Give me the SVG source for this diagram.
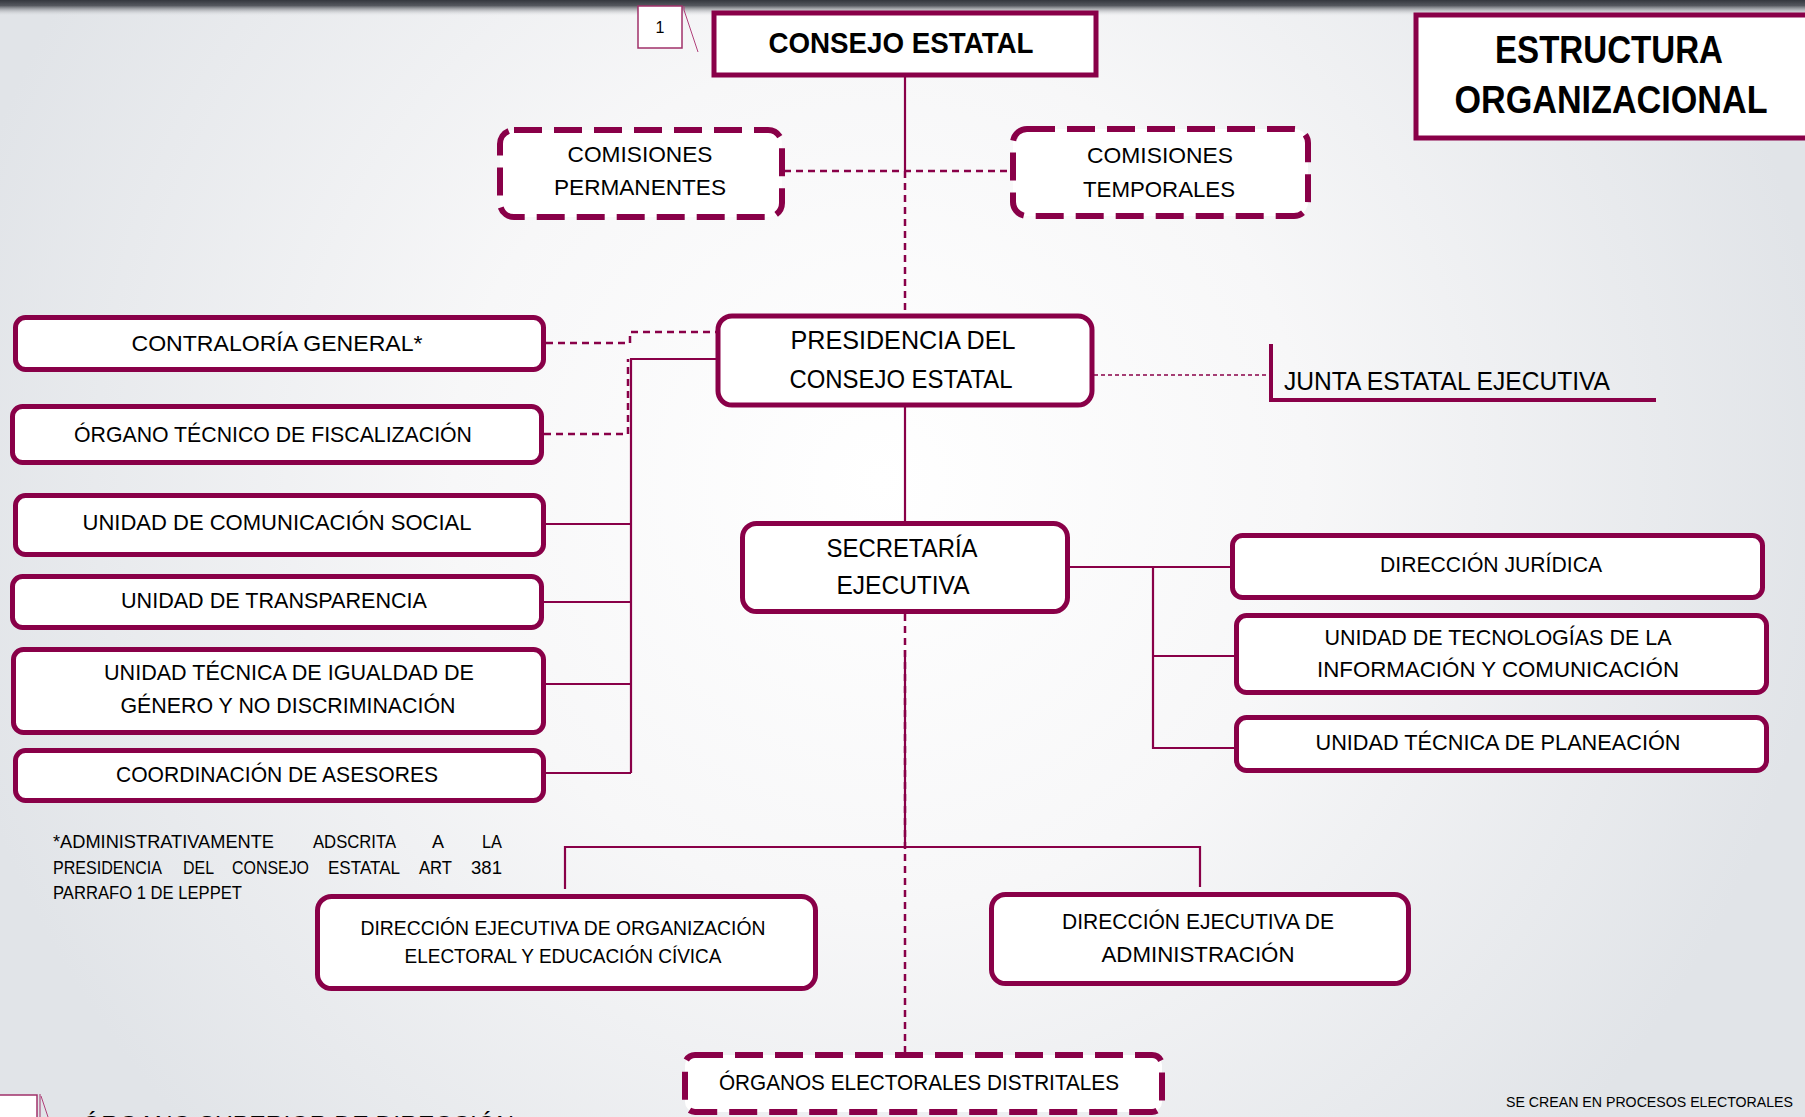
<svg xmlns="http://www.w3.org/2000/svg" width="1805" height="1117" viewBox="0 0 1805 1117">
<defs>
<radialGradient id="bg" gradientUnits="userSpaceOnUse" cx="880" cy="480" r="950">
<stop offset="0" stop-color="#ffffff"/>
<stop offset="0.45" stop-color="#f7f7f8"/>
<stop offset="1" stop-color="#e1e4e8"/>
</radialGradient>
<linearGradient id="topbar" x1="0" y1="0" x2="0" y2="1">
<stop offset="0" stop-color="#34373e"/>
<stop offset="0.35" stop-color="#55585f"/>
<stop offset="1" stop-color="#e4e6e9" stop-opacity="0"/>
</linearGradient>
<style>
.box{fill:#ffffff;stroke:#890048;stroke-width:5}
.dbox{fill:#ffffff;stroke:#890048;stroke-width:6;stroke-dasharray:28 12}
.ln{fill:none;stroke:#890048;stroke-width:2.2}
.dl{fill:none;stroke:#890048;stroke-width:2.5;stroke-dasharray:7 5}
.thin{fill:none;stroke:#890048;stroke-width:1.3;stroke-dasharray:4 3}
.t{font-family:"Liberation Sans",Arial,sans-serif;fill:#000000;text-anchor:middle}
.tl{font-family:"Liberation Sans",Arial,sans-serif;fill:#000000}
.b{font-weight:bold}
</style>
</defs>
<rect x="0" y="0" width="1805" height="1117" fill="url(#bg)"/>
<rect x="0" y="0" width="1805" height="16" fill="url(#topbar)"/>

<g id="connectors">
<line class="ln" x1="905" y1="77" x2="905" y2="171"/>
<line class="dl" x1="905" y1="171" x2="905" y2="313"/>
<line class="dl" x1="784" y1="171" x2="1010" y2="171"/>
<polyline class="dl" points="546,343 630,343 630,332 716,332"/>
<polyline class="dl" points="544,434 628,434 628,359"/>
<polyline class="ln" points="716,359 631,359 631,773"/>
<line class="ln" x1="546" y1="524" x2="631" y2="524"/>
<line class="ln" x1="544" y1="602" x2="631" y2="602"/>
<line class="ln" x1="546" y1="684" x2="631" y2="684" stroke-width="3"/>
<line class="ln" x1="546" y1="773" x2="631" y2="773"/>
<line class="ln" x1="905" y1="407" x2="905" y2="521"/>
<line class="thin" x1="1094" y1="375" x2="1271" y2="375"/>
<line class="ln" x1="1070" y1="567" x2="1232" y2="567" stroke-width="3"/>
<polyline class="ln" points="1153,567 1153,748 1236,748"/>
<line class="ln" x1="1153" y1="656" x2="1236" y2="656"/>
<line class="dl" x1="905" y1="614" x2="905" y2="1053"/>
<line class="ln" x1="905" y1="650" x2="905" y2="847"/>
<polyline class="ln" points="565,889 565,847 1200,847 1200,887"/>
</g>

<g id="nota1">
<rect x="638" y="6" width="44" height="42" fill="#ffffff" stroke="#a0306a" stroke-width="1.5"/>
<text class="t" x="660" y="33" font-size="16">1</text>
<polyline points="684,6 684,10 698,52" fill="none" stroke="#b0407a" stroke-width="1"/>
</g>

<g id="consejo">
<rect class="box" x="714" y="13" width="382" height="62" stroke-width="6"/>
<text class="t b" x="901" y="53" font-size="30" textLength="265" lengthAdjust="spacingAndGlyphs">CONSEJO ESTATAL</text>
</g>

<g id="titulo">
<rect class="box" x="1416" y="15" width="400" height="123"/>
<text class="t b" x="1609" y="63" font-size="38" textLength="228" lengthAdjust="spacingAndGlyphs">ESTRUCTURA</text>
<text class="t b" x="1611" y="113" font-size="38" textLength="313" lengthAdjust="spacingAndGlyphs">ORGANIZACIONAL</text>
</g>

<g id="comisiones-permanentes">
<rect class="dbox" x="500" y="130" width="282" height="87" rx="14"/>
<text class="t" x="640" y="162" font-size="22" textLength="145" lengthAdjust="spacingAndGlyphs">COMISIONES</text>
<text class="t" x="640" y="195" font-size="22" textLength="172" lengthAdjust="spacingAndGlyphs">PERMANENTES</text>
</g>

<g id="comisiones-temporales">
<rect class="dbox" x="1013" y="129" width="295" height="87" rx="14"/>
<text class="t" x="1160" y="163" font-size="22" textLength="146" lengthAdjust="spacingAndGlyphs">COMISIONES</text>
<text class="t" x="1159" y="197" font-size="22" textLength="152" lengthAdjust="spacingAndGlyphs">TEMPORALES</text>
</g>

<g id="presidencia">
<rect class="box" x="718" y="316" width="374" height="89" rx="14"/>
<text class="t" x="903" y="349" font-size="26" textLength="225" lengthAdjust="spacingAndGlyphs">PRESIDENCIA DEL</text>
<text class="t" x="901" y="388" font-size="26" textLength="223" lengthAdjust="spacingAndGlyphs">CONSEJO ESTATAL</text>
</g>

<g id="junta">
<line x1="1271" y1="344" x2="1271" y2="402" stroke="#890048" stroke-width="4"/>
<line x1="1269" y1="400" x2="1656" y2="400" stroke="#890048" stroke-width="4"/>
<text class="tl" x="1284" y="390" font-size="26" textLength="326" lengthAdjust="spacingAndGlyphs">JUNTA ESTATAL EJECUTIVA</text>
</g>

<g id="contraloria">
<rect class="box" x="15.5" y="317.5" width="528" height="52" rx="10"/>
<text class="t" x="277" y="351" font-size="22" textLength="291" lengthAdjust="spacingAndGlyphs">CONTRALORÍA GENERAL*</text>
</g>

<g id="organo-tecnico">
<rect class="box" x="12.5" y="406.5" width="529" height="56" rx="10"/>
<text class="t" x="273" y="442" font-size="22" textLength="398" lengthAdjust="spacingAndGlyphs">ÓRGANO TÉCNICO DE FISCALIZACIÓN</text>
</g>

<g id="comunicacion-social">
<rect class="box" x="15.5" y="495.5" width="528" height="59" rx="10"/>
<text class="t" x="277" y="530" font-size="22" textLength="389" lengthAdjust="spacingAndGlyphs">UNIDAD DE COMUNICACIÓN SOCIAL</text>
</g>

<g id="transparencia">
<rect class="box" x="12.5" y="576.5" width="529" height="51" rx="10"/>
<text class="t" x="274" y="608" font-size="22" textLength="306" lengthAdjust="spacingAndGlyphs">UNIDAD DE TRANSPARENCIA</text>
</g>

<g id="igualdad">
<rect class="box" x="13.5" y="649.5" width="530" height="83" rx="10"/>
<text class="t" x="289" y="680" font-size="22" textLength="370" lengthAdjust="spacingAndGlyphs">UNIDAD TÉCNICA DE IGUALDAD DE</text>
<text class="t" x="288" y="713" font-size="22" textLength="335" lengthAdjust="spacingAndGlyphs">GÉNERO Y NO DISCRIMINACIÓN</text>
</g>

<g id="asesores">
<rect class="box" x="15.5" y="750.5" width="528" height="50" rx="10"/>
<text class="t" x="277" y="782" font-size="22" textLength="322" lengthAdjust="spacingAndGlyphs">COORDINACIÓN DE ASESORES</text>
</g>

<g id="secretaria">
<rect class="box" x="742.5" y="523.5" width="325" height="88" rx="14"/>
<text class="t" x="902" y="557" font-size="26" textLength="151" lengthAdjust="spacingAndGlyphs">SECRETARÍA</text>
<text class="t" x="903" y="594" font-size="26" textLength="133" lengthAdjust="spacingAndGlyphs">EJECUTIVA</text>
</g>

<g id="juridica">
<rect class="box" x="1232.5" y="535.5" width="530" height="62" rx="10"/>
<text class="t" x="1491" y="572" font-size="22" textLength="222" lengthAdjust="spacingAndGlyphs">DIRECCIÓN JURÍDICA</text>
</g>

<g id="tecnologias">
<rect class="box" x="1236.5" y="615.5" width="530" height="77" rx="10"/>
<text class="t" x="1498" y="645" font-size="22" textLength="347" lengthAdjust="spacingAndGlyphs">UNIDAD DE TECNOLOGÍAS DE LA</text>
<text class="t" x="1498" y="677" font-size="22" textLength="362" lengthAdjust="spacingAndGlyphs">INFORMACIÓN Y COMUNICACIÓN</text>
</g>

<g id="planeacion">
<rect class="box" x="1236.5" y="717.5" width="530" height="53" rx="10"/>
<text class="t" x="1498" y="750" font-size="22" textLength="365" lengthAdjust="spacingAndGlyphs">UNIDAD TÉCNICA DE PLANEACIÓN</text>
</g>

<g id="nota-contraloria" class="tl" font-size="18">
<text class="tl" x="53" y="848" textLength="221" lengthAdjust="spacingAndGlyphs">*ADMINISTRATIVAMENTE</text>
<text class="tl" x="313" y="848" textLength="83" lengthAdjust="spacingAndGlyphs">ADSCRITA</text>
<text class="tl" x="432" y="848">A</text>
<text class="tl" x="482" y="848" textLength="20" lengthAdjust="spacingAndGlyphs">LA</text>
<text class="tl" x="53" y="874" textLength="109" lengthAdjust="spacingAndGlyphs">PRESIDENCIA</text>
<text class="tl" x="183" y="874" textLength="31" lengthAdjust="spacingAndGlyphs">DEL</text>
<text class="tl" x="232" y="874" textLength="77" lengthAdjust="spacingAndGlyphs">CONSEJO</text>
<text class="tl" x="328" y="874" textLength="72" lengthAdjust="spacingAndGlyphs">ESTATAL</text>
<text class="tl" x="419" y="874" textLength="33" lengthAdjust="spacingAndGlyphs">ART</text>
<text class="tl" x="471" y="874" textLength="31" lengthAdjust="spacingAndGlyphs">381</text>
<text class="tl" x="53" y="899" textLength="189" lengthAdjust="spacingAndGlyphs">PARRAFO 1 DE LEPPET</text>
</g>

<g id="organizacion-electoral">
<rect class="box" x="317.5" y="896.5" width="498" height="92" rx="14"/>
<text class="t" x="563" y="935" font-size="21" textLength="405" lengthAdjust="spacingAndGlyphs">DIRECCIÓN EJECUTIVA DE ORGANIZACIÓN</text>
<text class="t" x="563" y="963" font-size="21" textLength="317" lengthAdjust="spacingAndGlyphs">ELECTORAL Y EDUCACIÓN CÍVICA</text>
</g>

<g id="administracion">
<rect class="box" x="991.5" y="894.5" width="417" height="89" rx="14"/>
<text class="t" x="1198" y="929" font-size="22" textLength="272" lengthAdjust="spacingAndGlyphs">DIRECCIÓN EJECUTIVA DE</text>
<text class="t" x="1198" y="962" font-size="22" textLength="193" lengthAdjust="spacingAndGlyphs">ADMINISTRACIÓN</text>
</g>

<g id="organos-distritales">
<rect class="dbox" x="685" y="1055" width="477" height="57" rx="10"/>
<text class="t" x="919" y="1090" font-size="22" textLength="400" lengthAdjust="spacingAndGlyphs">ÓRGANOS ELECTORALES DISTRITALES</text>
</g>

<g id="nota-procesos">
<text class="tl" x="1506" y="1107" font-size="15" textLength="287" lengthAdjust="spacingAndGlyphs">SE CREAN EN PROCESOS ELECTORALES</text>
</g>

<g id="pie">
<rect x="-2" y="1095" width="39" height="30" fill="#ffffff" stroke="#a0306a" stroke-width="1.5"/>
<line x1="40" y1="1094" x2="40" y2="1117" stroke="#a0306a" stroke-width="1"/>
<line x1="41" y1="1096" x2="48" y2="1117" stroke="#b0407a" stroke-width="1"/>
<text class="t" x="14" y="1130" font-size="16">1</text>
<text class="tl" x="82" y="1134" font-size="26" textLength="432" lengthAdjust="spacingAndGlyphs">ÓRGANO SUPERIOR DE DIRECCIÓN</text>
</g>
</svg>
